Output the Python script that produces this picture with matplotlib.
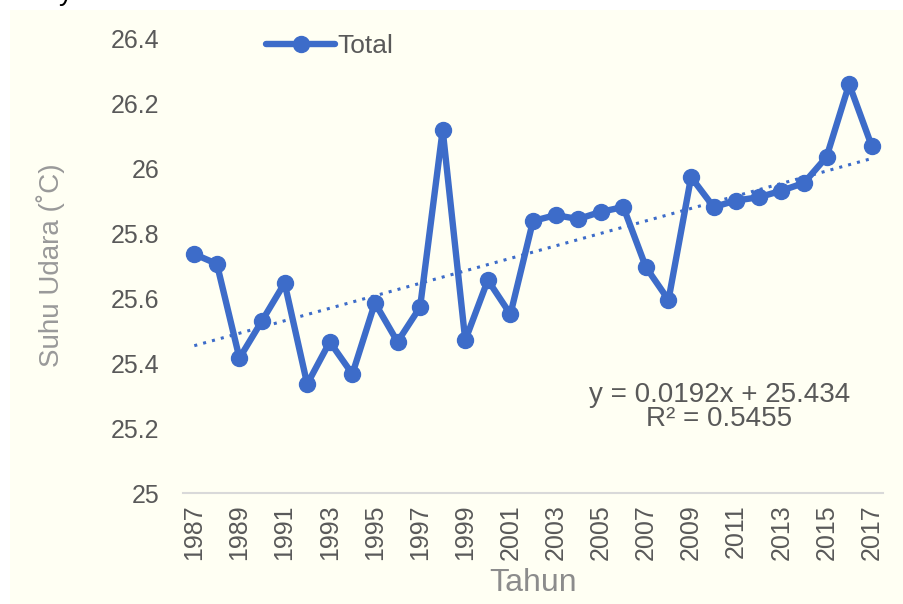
import numpy as np
import matplotlib.pyplot as plt
from matplotlib.patches import Rectangle

plt.rcParams['font.family'] = ['Liberation Sans', 'DejaVu Sans']

# data
tahun = list(range(1987, 2018))
suhu = [25.735, 25.705, 25.415, 25.53, 25.646, 25.335, 25.465, 25.366,
        25.585, 25.465, 25.572, 26.117, 25.47, 25.655, 25.55, 25.837,
        25.855, 25.843, 25.865, 25.88, 25.695, 25.594, 25.972, 25.88,
        25.90, 25.91, 25.93, 25.954, 26.034, 26.258, 26.068]
slope = 0.0192
intercept = 25.434
tick_labels = [str(t) for t in tahun[::2]]

biru = '#3d6cc9'
abu = '#595959'

fig = plt.figure(figsize=(9.04, 6.04), dpi=100, facecolor='white')
# cream background of the chart (the scan has a white strip top/left)
fig.patches.append(Rectangle((10/904, 0), 1 - 10/904, 1 - 10/604,
                             transform=fig.transFigure, facecolor='#fffff3',
                             edgecolor='none', zorder=-10))
fig.text(66/904, 1.012, 'y', fontsize=20, color='black', ha='center', va='center')

ax = fig.add_axes([183/904, 111/604, 700/904, 455/604])
ax.set_facecolor('none')

x = np.arange(len(tahun))
ax.plot(x, suhu, color=biru, lw=4.6, marker='o', ms=11.5, label='Total',
        solid_capstyle='round', zorder=3)
# linear trend line from the displayed equation
tren = slope * (x + 1) + intercept
ax.plot(x, tren, color=biru, lw=2.2, ls=(0, (1, 2)), zorder=2)

ax.set_xlim(-0.5, len(tahun) - 0.5)
ax.set_ylim(25, 26.4)
ax.set_yticks(np.arange(25, 26.41, 0.2))
ax.set_yticklabels(['25', '25.2', '25.4', '25.6', '25.8', '26', '26.2', '26.4'])
ax.set_xticks(x[::2])
ax.set_xticklabels(tick_labels, rotation=90)
ax.tick_params(axis='y', length=0, colors=abu, labelsize=18, pad=17)
ax.tick_params(axis='x', length=0, colors=abu, labelsize=18, pad=8)

for s in ['top', 'right', 'left']:
    ax.spines[s].set_visible(False)
ax.spines['bottom'].set_color('#d9d9d9')
ax.spines['bottom'].set_linewidth(1.5)

ax.set_ylabel('Suhu Udara (˚C)', fontsize=20, color='#999999', labelpad=33)
ax.set_xlabel('Tahun', fontsize=23, color='#8c8c8c', labelpad=6)

ax.text(0.766, 0.19, 'y = 0.0192x + 25.434\nR² = 0.5455', transform=ax.transAxes,
        ha='center', va='center', fontsize=20, color=abu, linespacing=0.9)

ax.legend(loc='upper left', bbox_to_anchor=(0.085, 1.06), frameon=False,
          fontsize=19, handlelength=2.6, handletextpad=0.1, labelcolor=abu)

fig.savefig('out.png', dpi=100, facecolor=fig.get_facecolor())
